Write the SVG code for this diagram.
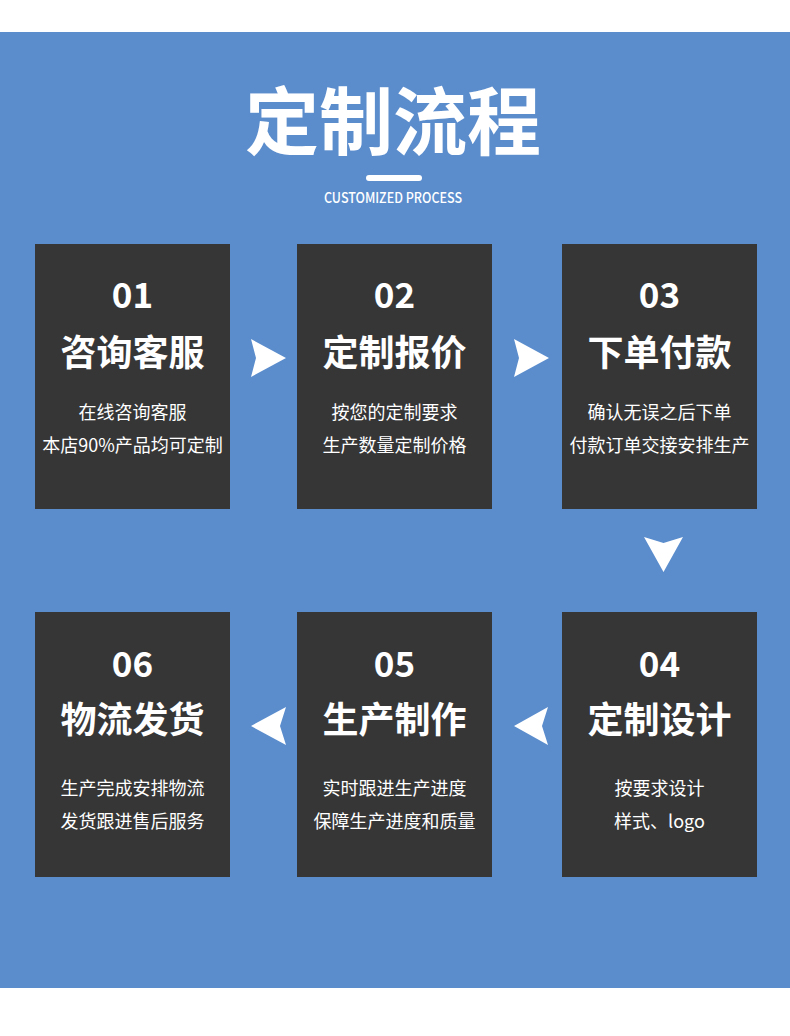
<svg xmlns="http://www.w3.org/2000/svg" width="790" height="1036" viewBox="0 0 790 1036">
<style>
.box{fill:#363636}
.arr{fill:#ffffff}
text{fill:#ffffff;text-anchor:middle;font-family:"Noto Sans CJK SC","Noto Sans",sans-serif}
.num{font-size:35px;font-weight:700}
.ttl{font-size:36px;font-weight:700}
.sub{font-size:18px;font-weight:400}
</style>
<rect x="0" y="0" width="790" height="1036" fill="#ffffff"/>
<rect x="0" y="32" width="790" height="956" fill="#5b8dcd"/>
<g id="header">
<text x="393" y="149" style="font-size:74px;font-weight:700" textLength="296" lengthAdjust="spacing">定制流程</text>
<rect x="366" y="175" width="56" height="6" rx="3" fill="#ffffff"/>
<text x="393" y="203" style="font-size:14px;font-weight:500" textLength="138" lengthAdjust="spacingAndGlyphs">CUSTOMIZED PROCESS</text>
</g>
<g id="connectors">
<path class="arr" d="M251,339 L286,358 L251,377 L256,358 Z"/>
<path class="arr" d="M514,339 L549,358 L514,377 L519,358 Z"/>
<path class="arr" d="M644,537 L663.5,543 L683,537 L663.5,572 Z"/>
<path class="arr" d="M548,707 L514,726 L548,745 L542,726 Z"/>
<path class="arr" d="M286,707 L251,726 L286,745 L280,726 Z"/>
</g>
<g id="node1">
<rect class="box" x="35" y="244" width="195" height="265"/>
<text class="num" x="132.5" y="308">01</text>
<text class="ttl" x="132.5" y="366">咨询客服</text>
<text class="sub" x="132.5" y="419">在线咨询客服</text>
<text class="sub" x="132.5" y="452">本店90%产品均可定制</text>
</g>
<g id="node2">
<rect class="box" x="297" y="244" width="195" height="265"/>
<text class="num" x="394.5" y="308">02</text>
<text class="ttl" x="394.5" y="366">定制报价</text>
<text class="sub" x="394.5" y="419">按您的定制要求</text>
<text class="sub" x="394.5" y="452">生产数量定制价格</text>
</g>
<g id="node3">
<rect class="box" x="562" y="244" width="195" height="265"/>
<text class="num" x="659.5" y="308">03</text>
<text class="ttl" x="659.5" y="366">下单付款</text>
<text class="sub" x="659.5" y="419">确认无误之后下单</text>
<text class="sub" x="659.5" y="452">付款订单交接安排生产</text>
</g>
<g id="node4">
<rect class="box" x="562" y="612" width="195" height="265"/>
<text class="num" x="659.5" y="677">04</text>
<text class="ttl" x="659.5" y="733">定制设计</text>
<text class="sub" x="659.5" y="795">按要求设计</text>
<text class="sub" x="659.5" y="828">样式、logo</text>
</g>
<g id="node5">
<rect class="box" x="297" y="612" width="195" height="265"/>
<text class="num" x="394.5" y="677">05</text>
<text class="ttl" x="394.5" y="733">生产制作</text>
<text class="sub" x="394.5" y="795">实时跟进生产进度</text>
<text class="sub" x="394.5" y="828">保障生产进度和质量</text>
</g>
<g id="node6">
<rect class="box" x="35" y="612" width="195" height="265"/>
<text class="num" x="132.5" y="677">06</text>
<text class="ttl" x="132.5" y="733">物流发货</text>
<text class="sub" x="132.5" y="795">生产完成安排物流</text>
<text class="sub" x="132.5" y="828">发货跟进售后服务</text>
</g>
</svg>
